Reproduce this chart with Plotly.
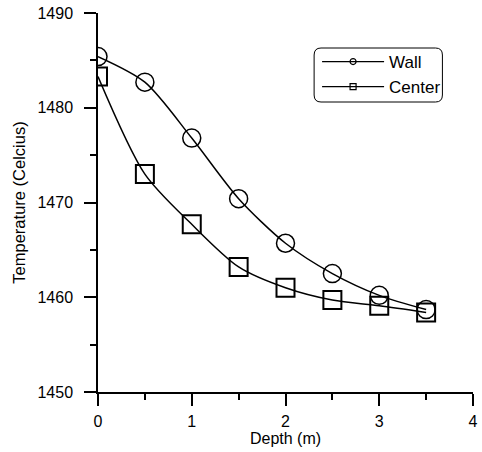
import plotly.graph_objects as go

# Temperature profiles along the depth
depth = [0, 0.5, 1, 1.5, 2, 2.5, 3, 3.5]
wall_temp = [1485.4, 1482.7, 1476.8, 1470.4, 1465.7, 1462.5, 1460.2, 1458.7]
center_temp = [1483.3, 1473.0, 1467.7, 1463.2, 1461.0, 1459.7, 1459.1, 1458.4]

series_names = ["Wall", "Center"]
x_ticks = [0, 1, 2, 3, 4]
y_ticks = [1450, 1460, 1470, 1480, 1490]

FONT = "Liberation Sans, Arial, sans-serif"
W, H = 482, 452
ML, MR, MT, MB = 98, 4, 13, 60

fig = go.Figure()

# main curves (smoothed lines with large open markers)
fig.add_trace(go.Scatter(
    x=depth, y=wall_temp, mode="lines+markers", showlegend=False,
    line=dict(color="black", width=1.5, shape="spline", smoothing=0.8),
    marker=dict(symbol="circle-open", size=18, color="black",
                line=dict(width=1.5, color="black")),
))
fig.add_trace(go.Scatter(
    x=depth, y=center_temp, mode="lines+markers", showlegend=False,
    line=dict(color="black", width=1.5, shape="spline", smoothing=0.8),
    marker=dict(symbol="square-open", size=18, color="black",
                line=dict(width=2, color="black")),
))

# legend entries with small symbols
for name, sym in zip(series_names, ["circle-open", "square-open"]):
    fig.add_trace(go.Scatter(
        x=[None], y=[None], mode="lines+markers", name=name,
        line=dict(color="black", width=1.2),
        marker=dict(symbol=sym, size=6, color="black",
                    line=dict(width=1.2, color="black")),
    ))

# rounded frame around the legend
pw, ph = W - ML - MR, H - MT - MB
x0, x1 = (317 - ML) / pw, (447 - ML) / pw
y0, y1 = (H - MB - 102) / ph, (H - MB - 48) / ph
rx, ry = 7 / pw, 7 / ph
path = (f"M{x0+rx},{y1} L{x1-rx},{y1} Q{x1},{y1} {x1},{y1-ry} "
        f"L{x1},{y0+ry} Q{x1},{y0} {x1-rx},{y0} L{x0+rx},{y0} "
        f"Q{x0},{y0} {x0},{y0+ry} L{x0},{y1-ry} Q{x0},{y1} {x0+rx},{y1} Z")
fig.add_shape(type="path", path=path, xref="paper", yref="paper",
              line=dict(color="black", width=1))

axis_common = dict(
    showgrid=False, zeroline=False, showline=True, linecolor="black",
    linewidth=1.5, ticks="outside", ticklen=12, tickwidth=1.5,
    tickcolor="black", tickfont=dict(family=FONT, size=16, color="black"),
    mirror=False, ticklabeloverflow="allow",
)

fig.update_xaxes(
    range=[0, 4], tickvals=x_ticks, ticktext=[str(v) for v in x_ticks],
    ticklabelstandoff=2,
    title=dict(text="Depth (m)", font=dict(family=FONT, size=16, color="black"), standoff=0),
    minor=dict(ticks="outside", ticklen=6, tickwidth=1.5, tickcolor="black", dtick=0.5, showgrid=False),
    **axis_common,
)
fig.update_yaxes(
    range=[1450, 1490], tickvals=y_ticks, ticktext=[str(v) for v in y_ticks],
    ticklabelstandoff=8,
    title=dict(text="Temperature (Celcius)", font=dict(family=FONT, size=16.5, color="black"), standoff=8),
    minor=dict(ticks="outside", ticklen=6, tickwidth=1.5, tickcolor="black", dtick=5, showgrid=False),
    **axis_common,
)

fig.update_layout(
    width=W, height=H,
    margin=dict(l=ML, r=MR, t=MT, b=MB),
    paper_bgcolor="white", plot_bgcolor="white",
    font=dict(family=FONT, size=16, color="black"),
    legend=dict(x=(320 - ML) / pw, y=y1 + 4 / ph, xanchor="left", yanchor="top",
                bgcolor="rgba(0,0,0,0)", borderwidth=0, itemwidth=62,
                font=dict(family=FONT, size=17, color="black"),
                tracegroupgap=0),
)

fig.write_html("out.html")
